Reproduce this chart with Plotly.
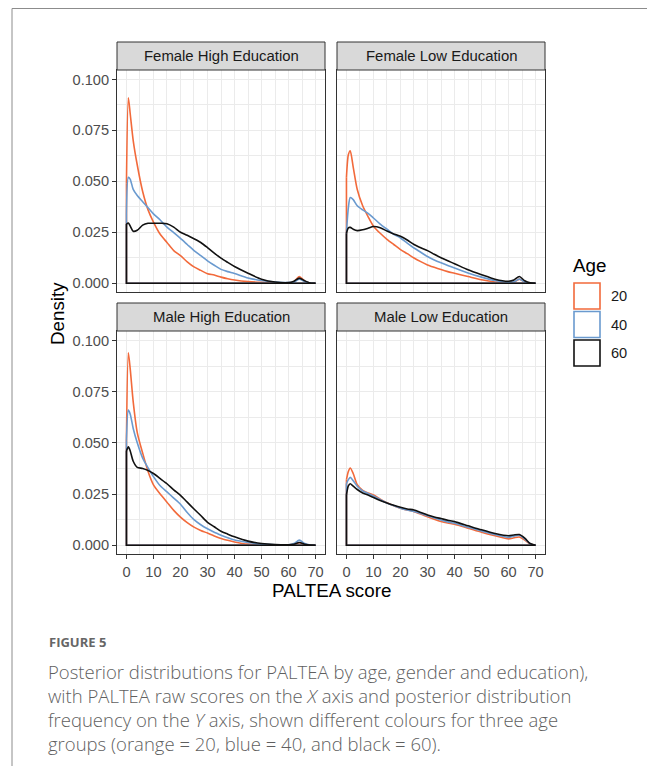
import plotly.graph_objects as go

# ---------------- data ----------------
score = [0, 0.7, 1.4, 2.5, 4, 6, 8, 10, 12.5, 15, 17.5, 20, 22.5, 25, 27.5, 30,
         32.5, 35, 37.5, 40, 45, 50, 55, 60, 62, 64, 66, 68, 70]

ages = ["20", "40", "60"]
age_colors = ["#F26A3B", "#6A9ACF", "#111111"]

panels = ["Female High Education", "Female Low Education",
          "Male High Education", "Male Low Education"]

fh_20 = [0.049, 0.091, 0.083, 0.070, 0.058, 0.045, 0.036, 0.030, 0.024, 0.020, 0.016, 0.0135, 0.0105, 0.0080, 0.0063, 0.0047,
         0.0040, 0.0030, 0.0022, 0.0016, 0.0008, 0.0004, 0.0002, 0.0001, 0.0008, 0.0033, 0.0010, 0.0001, 0.0]
fh_40 = [0.034, 0.052, 0.051, 0.046, 0.043, 0.040, 0.037, 0.034, 0.031, 0.0275, 0.0248, 0.022, 0.019, 0.016, 0.0135, 0.011,
         0.0088, 0.0068, 0.0057, 0.0048, 0.0026, 0.0013, 0.0006, 0.0003, 0.0006, 0.0020, 0.0008, 0.0001, 0.0]
fh_60 = [0.029, 0.0295, 0.028, 0.0255, 0.026, 0.0285, 0.0294, 0.0294, 0.0294, 0.0292, 0.0275, 0.025, 0.0235, 0.0218, 0.0200, 0.0175,
         0.0148, 0.0123, 0.0102, 0.0082, 0.0049, 0.0020, 0.0006, 0.0003, 0.0010, 0.0025, 0.0012, 0.0001, 0.0]

fl_20 = [0.052, 0.063, 0.065, 0.057, 0.046, 0.038, 0.0327, 0.028, 0.0245, 0.0215, 0.019, 0.0165, 0.0145, 0.0124, 0.0106, 0.009,
         0.0078, 0.0067, 0.0057, 0.0049, 0.0033, 0.0017, 0.0006, 0.0002, 0.0005, 0.0020, 0.0006, 0.0001, 0.0]
fl_40 = [0.025, 0.037, 0.042, 0.041, 0.038, 0.036, 0.0343, 0.032, 0.029, 0.0265, 0.024, 0.0222, 0.0197, 0.0173, 0.0152, 0.0131,
         0.0114, 0.0100, 0.0087, 0.0075, 0.0050, 0.0030, 0.0013, 0.0005, 0.0007, 0.0020, 0.0007, 0.0001, 0.0]
fl_60 = [0.0245, 0.0272, 0.0274, 0.0265, 0.0258, 0.0262, 0.0270, 0.0278, 0.0272, 0.0256, 0.0242, 0.0230, 0.0212, 0.0190, 0.0174, 0.0160,
         0.0142, 0.0125, 0.0110, 0.0096, 0.0066, 0.0042, 0.0020, 0.0010, 0.0016, 0.0033, 0.0012, 0.0002, 0.0]

mh_20 = [0.052, 0.094, 0.086, 0.070, 0.055, 0.045, 0.036, 0.0295, 0.025, 0.021, 0.017, 0.0137, 0.011, 0.0088, 0.0072, 0.0059,
         0.0045, 0.0033, 0.0024, 0.0016, 0.0005, 0.0002, 0.0001, 0.0001, 0.0004, 0.0012, 0.0004, 0.0001, 0.0]
mh_40 = [0.051, 0.066, 0.064, 0.057, 0.050, 0.0425, 0.0378, 0.0335, 0.029, 0.026, 0.023, 0.020, 0.016, 0.0125, 0.0100, 0.0080,
         0.0063, 0.0049, 0.0036, 0.0025, 0.0013, 0.0005, 0.0002, 0.0002, 0.0008, 0.0025, 0.0008, 0.0001, 0.0]
mh_60 = [0.046, 0.048, 0.046, 0.041, 0.038, 0.0375, 0.0365, 0.035, 0.0325, 0.030, 0.027, 0.0243, 0.021, 0.0177, 0.0145, 0.0112,
         0.0090, 0.0068, 0.0054, 0.0041, 0.0020, 0.0008, 0.0003, 0.0002, 0.0005, 0.0013, 0.0005, 0.0001, 0.0]

ml_20 = [0.032, 0.036, 0.0377, 0.035, 0.0295, 0.0268, 0.0255, 0.0245, 0.0225, 0.0207, 0.0193, 0.0181, 0.0172, 0.0164, 0.0152, 0.0139,
         0.0127, 0.0116, 0.0108, 0.0102, 0.0083, 0.0063, 0.0046, 0.0031, 0.0036, 0.0040, 0.0025, 0.0006, 0.0]
ml_40 = [0.030, 0.032, 0.0331, 0.0315, 0.0288, 0.0265, 0.0252, 0.0240, 0.0222, 0.0206, 0.0193, 0.0181, 0.0172, 0.0165, 0.0155, 0.0144,
         0.0133, 0.0123, 0.0114, 0.0107, 0.0088, 0.0070, 0.0052, 0.0038, 0.0044, 0.0049, 0.0030, 0.0007, 0.0]
ml_60 = [0.0246, 0.029, 0.030, 0.0288, 0.0272, 0.0255, 0.0245, 0.0233, 0.0218, 0.0206, 0.0195, 0.0185, 0.0177, 0.0172, 0.0160, 0.0148,
         0.0138, 0.0130, 0.0122, 0.0115, 0.0095, 0.0075, 0.0057, 0.0046, 0.0050, 0.0052, 0.0035, 0.0008, 0.0]

panel_series = [[fh_20, fh_40, fh_60], [fl_20, fl_40, fl_60],
                [mh_20, mh_40, mh_60], [ml_20, ml_40, ml_60]]

x_ticks = [0, 10, 20, 30, 40, 50, 60, 70]
y_ticks = [0.000, 0.025, 0.050, 0.075, 0.100]

# ---------------- layout geometry (page pixels; page body has 8px margin) ----------------
OFF = 8
W, H = 655 - OFF, 766 - OFF
def px(x): return (x - OFF) / W
def py(y): return 1 - (y - OFF) / H

col_x = [(117, 325), (337, 545)]
row_strip = [(42, 70), (303, 331)]
row_plot = [(70, 292), (331, 554)]

fig = go.Figure()

for p in range(4):
    ax = "" if p == 0 else str(p + 1)
    for series, col in zip(panel_series[p], age_colors):
        fig.add_trace(go.Scatter(
            x=score, y=series, mode="lines",
            line=dict(color=col, width=1.6, shape="spline", smoothing=0.7),
            xaxis="x" + ax, yaxis="y" + ax, showlegend=False, hoverinfo="skip"))
        fig.add_trace(go.Scatter(
            x=[score[-1], score[0], score[0]], y=[0, 0, series[0]], mode="lines",
            line=dict(color=col, width=1.6),
            xaxis="x" + ax, yaxis="y" + ax, showlegend=False, hoverinfo="skip"))

grid = "#EBEBEB"
TICK = 14.6
layout = dict(
    width=W, height=H, margin=dict(l=0, r=0, t=0, b=0),
    paper_bgcolor="white", plot_bgcolor="white",
    font=dict(family="Liberation Sans, Arial, sans-serif", color="#4D4D4D"),
    showlegend=False,
)

for p in range(4):
    r, c = divmod(p, 2)
    key = "" if p == 0 else str(p + 1)
    xd = [px(col_x[c][0]), px(col_x[c][1])]
    yd = [py(row_plot[r][1]), py(row_plot[r][0])]
    layout["xaxis" + key] = dict(
        domain=xd, anchor="y" + key, range=[-3.5, 73.5],
        tickvals=x_ticks, ticktext=[str(v) for v in x_ticks],
        showgrid=True, gridcolor=grid, gridwidth=1.3,
        minor=dict(dtick=5, tick0=0, showgrid=True, gridcolor=grid, gridwidth=0.7),
        zeroline=False, showline=True, mirror=True, linecolor="#333333", linewidth=1,
        ticks="outside" if r == 1 else "", ticklen=4, tickcolor="#333333",
        showticklabels=(r == 1),
        tickfont=dict(family="Liberation Sans, Arial, sans-serif", size=TICK, color="#4D4D4D"),
    )
    layout["yaxis" + key] = dict(
        domain=yd, anchor="x" + key, range=[-0.0043, 0.1046],
        tickvals=y_ticks, ticktext=["%.3f" % v for v in y_ticks],
        showgrid=True, gridcolor=grid, gridwidth=1.3,
        minor=dict(dtick=0.0125, tick0=0, showgrid=True, gridcolor=grid, gridwidth=0.7),
        zeroline=False, showline=True, mirror=True, linecolor="#333333", linewidth=1,
        ticks="outside" if c == 0 else "", ticklen=4, tickcolor="#333333",
        showticklabels=(c == 0),
        tickfont=dict(family="Liberation Sans, Arial, sans-serif", size=TICK, color="#4D4D4D"),
    )

fig.update_layout(**layout)

shapes = []
annotations = []

# outer frame
shapes.append(dict(type="line", xref="paper", yref="paper", x0=px(12), x1=px(12), y0=py(8.5), y1=0,
                   line=dict(color="#8C8C8C", width=1)))
shapes.append(dict(type="line", xref="paper", yref="paper", x0=px(12), x1=1, y0=py(8.5), y1=py(8.5),
                   line=dict(color="#8C8C8C", width=1)))

# strips
for p, name in enumerate(panels):
    r, c = divmod(p, 2)
    shapes.append(dict(type="rect", xref="paper", yref="paper",
                       x0=px(col_x[c][0]), x1=px(col_x[c][1]),
                       y0=py(row_strip[r][1]), y1=py(row_strip[r][0]),
                       fillcolor="#D9D9D9", line=dict(color="#333333", width=1), layer="above"))
    annotations.append(dict(text=name, xref="paper", yref="paper",
                            x=px((col_x[c][0] + col_x[c][1]) / 2),
                            y=py((row_strip[r][0] + row_strip[r][1]) / 2),
                            showarrow=False, xanchor="center", yanchor="middle",
                            font=dict(size=14.9, color="#1A1A1A")))

# axis titles
annotations.append(dict(text="PALTEA score", xref="paper", yref="paper", x=px(331), y=py(590),
                        showarrow=False, xanchor="center", yanchor="middle",
                        font=dict(size=18.8, color="#000000")))
annotations.append(dict(text="Density", xref="paper", yref="paper", x=px(57), y=py(314),
                        showarrow=False, xanchor="center", yanchor="middle", textangle=-90,
                        font=dict(size=18.8, color="#000000")))

# legend (drawn)
annotations.append(dict(text="Age", xref="paper", yref="paper", x=px(571), y=py(265),
                        showarrow=False, xanchor="left", yanchor="middle",
                        font=dict(size=18.8, color="#000000")))
for i, (age, col) in enumerate(zip(ages, age_colors)):
    top = 282 + i * 28.5
    shapes.append(dict(type="rect", xref="paper", yref="paper",
                       x0=px(574), x1=px(600), y0=py(top + 27), y1=py(top + 1),
                       fillcolor="white", line=dict(color=col, width=1.6)))
    annotations.append(dict(text=age, xref="paper", yref="paper", x=px(609), y=py(top + 14),
                            showarrow=False, xanchor="left", yanchor="middle",
                            font=dict(size=TICK, color="#1A1A1A")))

# caption
annotations.append(dict(text="<b>FIGURE 5</b>", xref="paper", yref="paper", x=px(47), y=py(642),
                        showarrow=False, xanchor="left", yanchor="middle",
                        font=dict(family="Open Sans", size=13, color="#666666")))
caption_lines = [
    "Posterior distributions for PALTEA by age, gender and education),",
    "with PALTEA raw scores on the <i>X</i> axis and posterior distribution",
    "frequency on the <i>Y</i> axis, shown different colours for three age",
    "groups (orange = 20, blue = 40, and black = 60).",
]
for i, line in enumerate(caption_lines):
    annotations.append(dict(text=line, xref="paper", yref="paper", x=px(46), y=py(671 + 24 * i),
                            showarrow=False, xanchor="left", yanchor="middle",
                            font=dict(family="Open Sans", size=18.5, color="#5F5F5F", weight=300)))

fig.update_layout(shapes=shapes, annotations=annotations)
fig.write_html("out.html")
